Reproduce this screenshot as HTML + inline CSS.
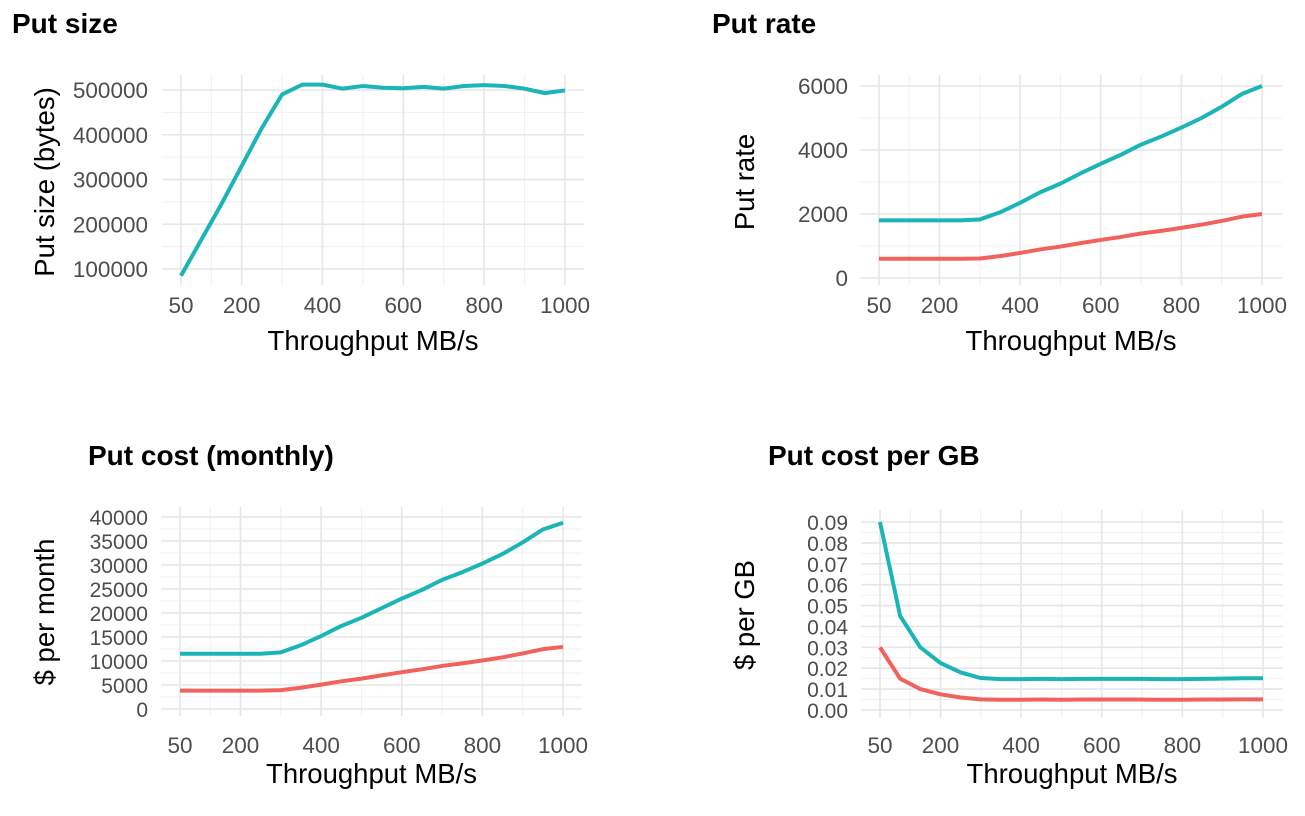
<!DOCTYPE html>
<html><head><meta charset="utf-8"><style>
body{margin:0;background:#fff;font-family:"Liberation Sans",Arial,sans-serif}
svg text{font-family:"Liberation Sans",Arial,sans-serif}
</style></head><body>
<svg id="c" width="1305" height="811"></svg>
<script>
const xs=[50,100,150,200,250,300,350,400,450,500,550,600,650,700,750,800,850,900,950,1000];
const xTicks=[50,200,400,600,800,1000];
const sizeTeal=[85000,165000,245000,330000,415000,490000,512000,512000,503000,509000,505000,504000,507000,503000,509000,511000,509000,503000,493000,499000];
const rateTeal=[1800,1800,1800,1800,1800,1830,2050,2350,2680,2950,3270,3570,3850,4170,4420,4700,5000,5350,5750,6000];
const rateRed=[600,600,600,600,600,610,683,783,893,983,1090,1190,1283,1390,1473,1567,1667,1783,1917,2000];
const costTeal=[11500,11500,11500,11500,11500,11800,13300,15200,17300,19000,21000,23000,24800,26900,28500,30300,32300,34700,37400,38800];
const costRed=[3830,3830,3830,3830,3830,3930,4430,5070,5770,6330,7000,7670,8270,8970,9500,10100,10770,11570,12470,12930];
const gbTeal=[0.09,0.045,0.030,0.0225,0.018,0.0153,0.0148,0.0148,0.0149,0.0148,0.0149,0.0149,0.0149,0.0149,0.0148,0.0148,0.0149,0.015,0.0152,0.0152];
const gbRed=[0.03,0.015,0.010,0.0075,0.006,0.0051,0.0049,0.0049,0.005,0.0049,0.005,0.005,0.005,0.005,0.0049,0.0049,0.005,0.005,0.0051,0.0051];
const sizeTicks=[100000,200000,300000,400000,500000];
const rateTicks=[0,2000,4000,6000];
const costTicks=[0,5000,10000,15000,20000,25000,30000,35000,40000];
const gbTicks=[0,0.01,0.02,0.03,0.04,0.05,0.06,0.07,0.08,0.09];
const TEAL='#1cb5b7',RED='#f2625d';
const svg=document.getElementById('c');const NS='http://www.w3.org/2000/svg';
function el(t,a,p){const e=document.createElementNS(NS,t);for(const k in a)e.setAttribute(k,a[k]);(p||svg).appendChild(e);return e;}
function panel(o){
 const g=el('g',{});
 
 
 const X=v=>o.x0+(v-50)*(o.x1-o.x0)/950;
 const Y=v=>o.y0+(v-o.v0)*(o.y1-o.y0)/(o.v1-o.v0);
 [125,300,500,700,900].forEach(v=>el('line',{x1:X(v),x2:X(v),y1:o.top,y2:o.bot,stroke:'#f0f0f0','stroke-width':1},g));
 o.minor.forEach(v=>el('line',{x1:o.left,x2:o.right,y1:Y(v),y2:Y(v),stroke:'#f0f0f0','stroke-width':1},g));
 xTicks.forEach(v=>el('line',{x1:X(v),x2:X(v),y1:o.top,y2:o.bot,stroke:'#e6e6e6','stroke-width':1.6},g));
 o.ticks.forEach(v=>el('line',{x1:o.left,x2:o.right,y1:Y(v),y2:Y(v),stroke:'#e6e6e6','stroke-width':1.6},g));
 o.ticks.forEach((v,i)=>{const t=el('text',{x:o.lx,y:Y(v)+8,'text-anchor':'end','font-size':o.fs||22.5,fill:'#4d4d4d'},g);t.textContent=o.lab?o.lab(v):String(v);
  
  });
 xTicks.forEach(v=>{const t=el('text',{x:X(v),y:o.xl,'text-anchor':'middle','font-size':22.5,fill:'#4d4d4d'},g);t.textContent=v;
  
  });
 o.series.forEach(s=>{const p=el('polyline',{points:xs.map((x,i)=>X(x)+','+Y(s.d[i])).join(' '),fill:'none',stroke:s.c,'stroke-width':4,'stroke-linejoin':'round'},g);
  
  });
 let t=el('text',{x:(o.left+o.right)/2,y:o.xt,'text-anchor':'middle','font-size':27.5,fill:'#000'},g);t.textContent='Throughput MB/s';
 
 
 t=el('text',{x:0,y:0,transform:`translate(${o.tx},${o.tcy}) rotate(-90)`,'text-anchor':'middle','font-size':27.5,fill:'#000'},g);t.textContent=o.ytitle;
 
 
 t=el('text',{x:o.titx,y:o.tity,'font-size':28,'font-weight':'bold',fill:'#000'},g);t.textContent=o.title;
 
 
}
panel({name:'put-size-panel',x0:181,x1:565,left:162,right:584,top:75,bot:285,v0:100000,v1:500000,y0:269,y1:90,ticks:sizeTicks,minor:[150000,250000,350000,450000],lx:148,tx:54,tcy:182,xl:313,xt:350,ytitle:'Put size (bytes)',title:'Put size',titx:12,tity:33,series:[{n:'put-size-line',c:TEAL,d:sizeTeal}]});
panel({name:'put-rate-panel',x0:879,x1:1262,left:860,right:1282,top:75,bot:285,v0:0,v1:6000,y0:278,y1:86,ticks:rateTicks,minor:[1000,3000,5000],lx:848,tx:754,tcy:182,xl:313,xt:350,ytitle:'Put rate',title:'Put rate',titx:712,tity:33,series:[{n:'put-rate-red',c:RED,d:rateRed},{n:'put-rate-teal',c:TEAL,d:rateTeal}]});
panel({name:'put-cost-monthly-panel',x0:180,x1:563,left:161,right:582,top:507,bot:716,v0:0,v1:40000,y0:709,y1:517,ticks:costTicks,minor:[2500,7500,12500,17500,22500,27500,32500,37500],lx:148,tx:54,tcy:612,xl:753,xt:783,fs:21,ytitle:'$ per month',title:'Put cost (monthly)',titx:88,tity:465,series:[{n:'put-cost-red',c:RED,d:costRed},{n:'put-cost-teal',c:TEAL,d:costTeal}]});
panel({name:'put-cost-per-gb-panel',x0:880,x1:1263,left:861,right:1283,top:510,bot:718,v0:0,v1:0.09,y0:710,y1:522,ticks:gbTicks,minor:[0.005,0.015,0.025,0.035,0.045,0.055,0.065,0.075,0.085],lx:848,tx:754,tcy:615,xl:753,xt:783,fs:21,ytitle:'$ per GB',title:'Put cost per GB',titx:768,tity:465,lab:v=>v.toFixed(2),series:[{n:'per-gb-red',c:RED,d:gbRed},{n:'per-gb-teal',c:TEAL,d:gbTeal}]});
</script>
</body></html>
